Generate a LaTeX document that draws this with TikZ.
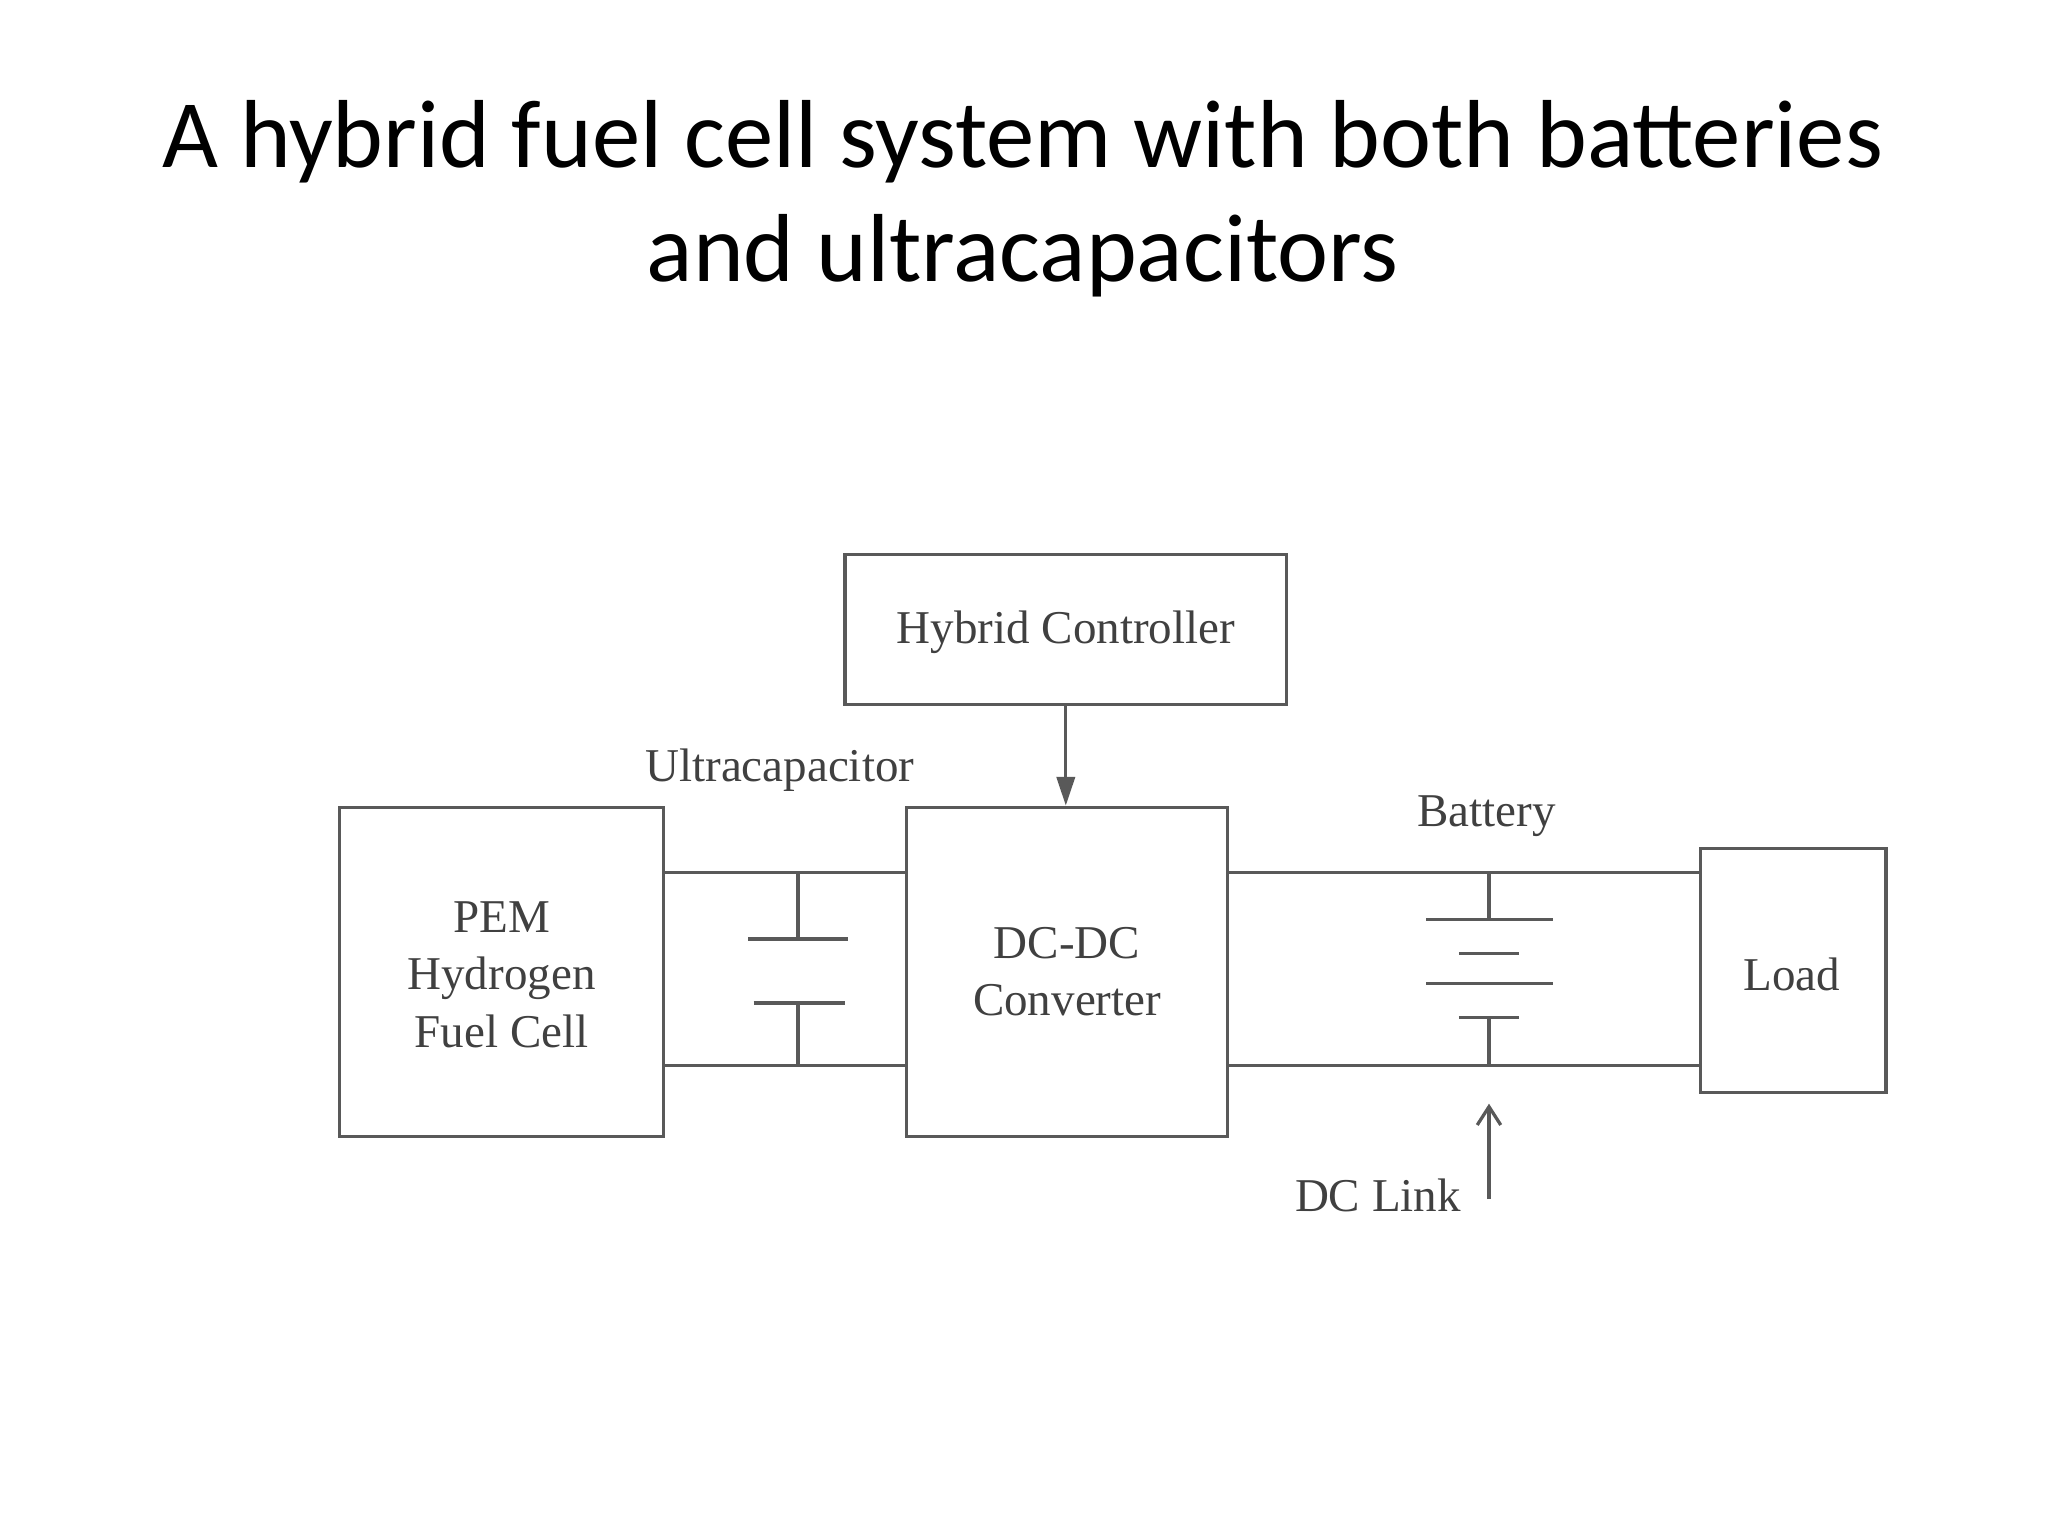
\documentclass[tikz,border=0pt]{standalone}
\usepackage{fontspec}
\setmainfont{Liberation Serif}
\newfontfamily\titlefont{Carlito}
\usetikzlibrary{arrows.meta}
\begin{document}
\begin{tikzpicture}[x=1pt,y=-1pt,
  line width=2.5pt, draw=black!65,
  box/.style={draw=black!65, line width=2.5pt, inner sep=0pt},
  lbl/.style={font=\fontsize{36}{44}\selectfont, text=black!75, align=center},
  wire/.style={draw=black!65, line width=2.5pt}]
\useasboundingbox (0,0) rectangle (1568,1176);
\node[font=\titlefont\fontsize{74}{87}\selectfont, align=center] (title) at (783,152)
  {A hybrid fuel cell system with both batteries\\and ultracapacitors};

\node[box, minimum width=338, minimum height=115] (hc) at (816,482) {};
\node[lbl] (hct) at (816,484) {Hybrid Controller};
\node[box, minimum width=248, minimum height=252] (pem) at (384,744) {};
\node[lbl] (pemt) at (384,746) {PEM\\Hydrogen\\Fuel Cell};
\node[box, minimum width=246, minimum height=252] (dc) at (817,744) {};
\node[lbl] (dct) at (817,744) {DC-DC\\Converter};
\node[box, minimum width=142, minimum height=187] (load) at (1373,743) {};
\node[lbl] (loadt) at (1372,746) {Load};

\node[lbl] (ul) at (597,590) {Ultracapacitor};
\node[lbl] (bl) at (1138,625) {Battery};
\node[lbl] (dl) at (1055,915) {DC Link};

% wires
\coordinate (pt) at (508,668); \coordinate (pb) at (508,816);
\coordinate (dlt) at (694,668); \coordinate (dlb) at (694,816);
\coordinate (drt) at (940,668); \coordinate (drb) at (940,816);
\coordinate (lt) at (1302,668); \coordinate (lb) at (1302,816);
\draw[wire] (pt) -- (dlt);
\draw[wire] (pb) -- (dlb);
\draw[wire] (drt) -- (lt);
\draw[wire] (drb) -- (lb);

% capacitor
\coordinate (c1) at (611,668); \coordinate (c2) at (611,719);
\coordinate (c3) at (611,768); \coordinate (c4) at (611,816);
\draw[wire] (c1) -- (c2);
\draw[wire] (573,719) -- (649,719);
\draw[wire] (577,768) -- (647,768);
\draw[wire] (c3) -- (c4);

% battery
\coordinate (b1) at (1140,668); \coordinate (b2) at (1140,704);
\coordinate (b3) at (1140,779); \coordinate (b4) at (1140,816);
\draw[wire] (b1) -- (b2);
\draw[wire] (1092,704) -- (1189,704);
\draw[wire] (1117,730) -- (1163,730);
\draw[wire] (1092,753) -- (1189,753);
\draw[wire] (1117,779) -- (1163,779);
\draw[wire] (b3) -- (b4);

% arrows
\draw[wire, -{Triangle[length=22pt,width=14pt]}] (hc.south -| dc.north) ++(-1,0) coordinate (hcs) -- (dc.north -| hcs);
\coordinate (dla) at (1140,918);
\coordinate (dlt2) at (1140,845);
\draw[wire, -{Straight Barb[length=14pt,width=18pt]}] (dla) -- (dlt2);
\end{tikzpicture}
\end{document}
